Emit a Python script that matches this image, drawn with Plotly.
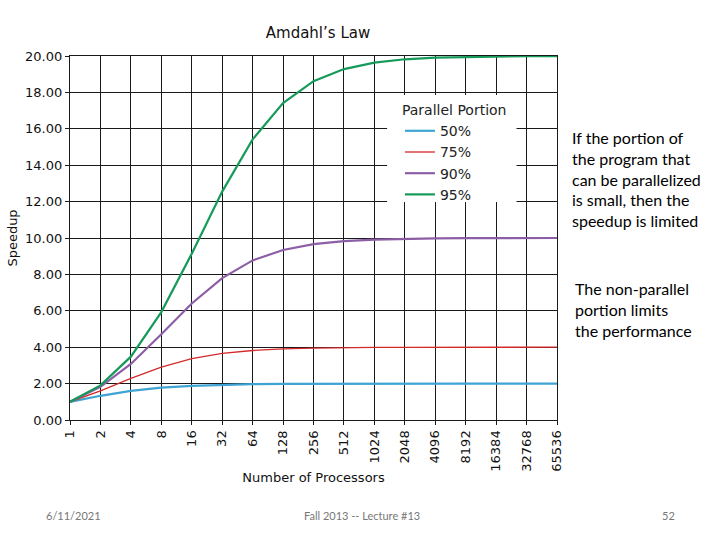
import plotly.graph_objects as go

processors = [1, 2, 4, 8, 16, 32, 64, 128, 256, 512, 1024, 2048, 4096, 8192, 16384, 32768, 65536]
tick_labels = [str(n) for n in processors]

series_names = ["50%", "75%", "90%", "95%"]
speedup_50 = [1.00, 1.33, 1.60, 1.78, 1.88, 1.94, 1.97, 1.98, 1.99, 2.00, 2.00, 2.00, 2.00, 2.00, 2.00, 2.00, 2.00]
speedup_75 = [1.00, 1.60, 2.29, 2.91, 3.37, 3.66, 3.82, 3.91, 3.95, 3.98, 3.99, 3.99, 4.00, 4.00, 4.00, 4.00, 4.00]
speedup_90 = [1.00, 1.82, 3.08, 4.71, 6.40, 7.80, 8.77, 9.34, 9.66, 9.83, 9.91, 9.96, 9.98, 9.99, 9.99, 10.00, 10.00]
speedup_95 = [1.00, 1.90, 3.48, 5.93, 9.14, 12.55, 15.42, 17.41, 18.62, 19.28, 19.64, 19.82, 19.91, 19.95, 19.98, 19.99, 19.99]
series_values = [speedup_50, speedup_75, speedup_90, speedup_95]
series_colors = ["#3fa4d4", "#d42a2a", "#8c5ea6", "#169a5a"]
series_widths = [2.2, 1.3, 2.2, 2.2]

y_ticks = [0, 2, 4, 6, 8, 10, 12, 14, 16, 18, 20]

W, H = 720, 540
L, R, T, B = 64, 163, 56, 120
PW, PH = W - L - R, H - T - B


def px(x):
    return (x - L) / PW


def py(y):
    return 1 - (y - T) / PH


fig = go.Figure()
for name, vals, col, w in zip(series_names, series_values, series_colors, series_widths):
    fig.add_trace(go.Scatter(x=processors, y=vals, mode="lines", name=name,
                             line=dict(color=col, width=w)))

axis_font = dict(family="DejaVu Sans", size=13, color="#111111")
grid_col = "#1a1a1a"
fig.update_layout(
    width=W, height=H,
    margin=dict(l=L, r=R, t=T, b=B),
    paper_bgcolor="white", plot_bgcolor="white",
    title=dict(text="Amdahl’s Law", x=318 / W, xanchor="center", y=1 - 33 / H, yanchor="middle",
               font=dict(family="DejaVu Sans", size=15, color="#111111")),
    xaxis=dict(type="log", range=[0, 4.8165], tickvals=processors, ticktext=tick_labels,
               tickangle=-90, tickfont=axis_font, showgrid=True, gridcolor=grid_col, gridwidth=1.3,
               ticks="outside", ticklen=4, tickcolor=grid_col, showline=True, linecolor=grid_col,
               linewidth=1.3, mirror=True, zeroline=False,
               title=dict(text="Number of Processors", font=dict(family="DejaVu Sans", size=13, color="#111111"),
                          standoff=2)),
    yaxis=dict(range=[0, 20], tickvals=y_ticks, tickformat=".2f", tickfont=axis_font,
               showgrid=True, gridcolor=grid_col, gridwidth=1.3, ticks="outside", ticklen=4,
               tickcolor=grid_col, zeroline=False, showline=True, linecolor=grid_col, linewidth=1.3,
               mirror=True,
               title=dict(text="Speedup", font=dict(family="DejaVu Sans", size=13, color="#111111"),
                          standoff=4)),
    legend=dict(x=px(398), y=py(97), xanchor="left", yanchor="top",
                bgcolor="rgba(255,255,255,0)", borderwidth=0,
                title=dict(text="Parallel Portion", font=dict(family="DejaVu Sans", size=14, color="#222222")),
                font=dict(family="DejaVu Sans", size=14, color="#222222"),
                tracegroupgap=0, itemwidth=30),
    showlegend=True,
)

# white panel behind the legend, as in the reference
fig.add_shape(type="rect", xref="paper", yref="paper", x0=px(385), x1=px(516), y0=py(202), y1=py(95),
              fillcolor="white", line=dict(width=0), layer="above")

side_font = dict(family="Lato", size=16, color="#000000")
fig.add_annotation(text="If the portion of<br>the program that<br>can be parallelized<br>is small, then the<br>speedup is limited",
                   xref="paper", yref="paper", x=px(570), y=py(126),
                   xanchor="left", yanchor="top", align="left", showarrow=False, font=side_font)
fig.add_annotation(text="The non-parallel<br>portion limits<br>the performance",
                   xref="paper", yref="paper", x=px(573), y=py(277),
                   xanchor="left", yanchor="top", align="left", showarrow=False, font=side_font)

foot_font = dict(family="Lato", size=11, color="#777777")
for txt, xp in [("6/11/2021", 68), ("Fall 2013 -- Lecture #13", 360), ("52", 670)]:
    fig.add_annotation(text=txt, xref="paper", yref="paper", x=px(xp), y=py(515),
                       xanchor="center", yanchor="middle", showarrow=False, font=foot_font)

fig.write_html("out.html")
